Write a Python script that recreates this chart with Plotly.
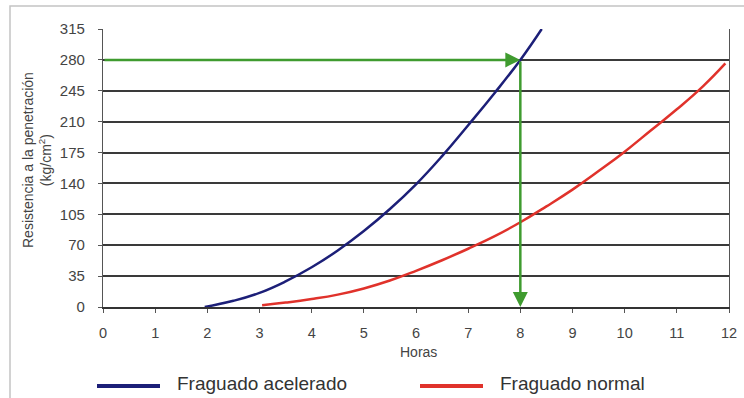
import plotly.graph_objects as go

# ---- data ----
hours_acelerado = [1.95, 2.5, 3, 3.5, 4, 4.5, 5, 5.5, 6, 6.5, 7, 7.5, 8, 8.41]
res_acelerado = [0, 7, 16, 29, 45, 64, 86, 111, 139, 171, 206, 242, 280, 315]

hours_normal = [3.05, 3.5, 4, 4.5, 5, 5.5, 6, 6.5, 7, 7.5, 8, 8.5, 9, 9.5, 10, 10.5, 11, 11.5, 11.93]
res_normal = [2, 5, 9, 14, 21, 30, 41, 53, 66, 80, 96, 114, 133, 154, 176, 200, 224, 250, 276]

x_ticks = list(range(0, 13))
y_ticks = [0, 35, 70, 105, 140, 175, 210, 245, 280, 315]

target_hours = 8
target_resistance = 280

series_names = ["Fraguado acelerado", "Fraguado normal"]
x_title = "Horas"
y_title = "Resistencia a la penetración<br>(kg/cm<sup>2</sup>)"

BLUE = "#1c1f78"
RED = "#e0322b"
GREEN = "#3f9b2f"
TXT = "#444444"
GRID = "#3a3a3a"

fig = go.Figure()
fig.add_trace(go.Scatter(x=hours_acelerado, y=res_acelerado, mode="lines",
                         line=dict(color=BLUE, width=2.5, shape="spline", smoothing=1.3),
                         name=series_names[0], showlegend=False, hoverinfo="skip"))
fig.add_trace(go.Scatter(x=hours_normal, y=res_normal, mode="lines",
                         line=dict(color=RED, width=2.5, shape="spline", smoothing=1.3),
                         name=series_names[1], showlegend=False, hoverinfo="skip"))

# green arrows
fig.add_annotation(x=target_hours, y=target_resistance, ax=x_ticks[0], ay=target_resistance,
                   xref="x", yref="y", axref="x", ayref="y", text="", showarrow=True,
                   arrowhead=2, arrowwidth=2.5, arrowsize=1.2, arrowcolor=GREEN)
fig.add_annotation(x=target_hours, y=y_ticks[0], ax=target_hours, ay=target_resistance,
                   xref="x", yref="y", axref="x", ayref="y", text="", showarrow=True,
                   arrowhead=2, arrowwidth=2.5, arrowsize=1.2, arrowcolor=GREEN)

W, H = 744, 398
L, R, T, B = 103, 15, 29, 91
pw, ph = W - L - R, H - T - B


def px(xp):
    return (xp - L) / pw


def py(yp):
    return (H - B - yp) / ph


# outer frame
fig.add_shape(type="rect", xref="paper", yref="paper", x0=px(10), x1=px(760), y0=py(420), y1=py(6),
              line=dict(color="#c4c4c4", width=1.5), layer="below")

# axis titles
fig.add_annotation(xref="paper", yref="paper", x=px(418), y=py(352), text=x_title, showarrow=False,
                   font=dict(size=14, color=TXT), xanchor="center", yanchor="middle")
fig.add_annotation(xref="paper", yref="paper", x=px(37), y=py(160), text=y_title, showarrow=False,
                   font=dict(size=14, color=TXT), textangle=-90, xanchor="center", yanchor="middle")

# custom legend
for (x0, x1, xt, color, name) in [(97, 160, 175, BLUE, series_names[0]), (420, 483, 498, RED, series_names[1])]:
    fig.add_shape(type="line", xref="paper", yref="paper", x0=px(x0), x1=px(x1), y0=py(386), y1=py(386),
                  line=dict(color=color, width=4))
    fig.add_annotation(xref="paper", yref="paper", x=px(xt), y=py(383), text=name, showarrow=False,
                       font=dict(size=19, color="#333333"), xanchor="left", yanchor="middle")

fig.update_xaxes(range=[x_ticks[0], x_ticks[-1]], tickvals=x_ticks, showgrid=False, zeroline=False,
                 showline=True, linecolor="#333333", linewidth=1.5, ticks="outside", ticklen=4,
                 tickcolor="#555555", tickfont=dict(size=14.5, color=TXT), ticklabelstandoff=8)
fig.update_yaxes(range=[y_ticks[0], y_ticks[-1]], tickvals=y_ticks, showgrid=True, gridcolor=GRID,
                 gridwidth=1.5, zeroline=False, showline=True, mirror=True, linecolor="#555555",
                 linewidth=1.2, ticks="outside", ticklen=4, tickcolor="#555555",
                 tickfont=dict(size=15, color=TXT), ticklabelstandoff=10)

fig.update_layout(width=W, height=H, margin=dict(l=L, r=R, t=T, b=B, autoexpand=False),
                  paper_bgcolor="white", plot_bgcolor="white",
                  font=dict(family="Liberation Sans, Arial, sans-serif"))

fig.write_html("out.html", config={"displayModeBar": False},
               post_script="document.body.style.margin='0';document.body.style.overflow='hidden';")
